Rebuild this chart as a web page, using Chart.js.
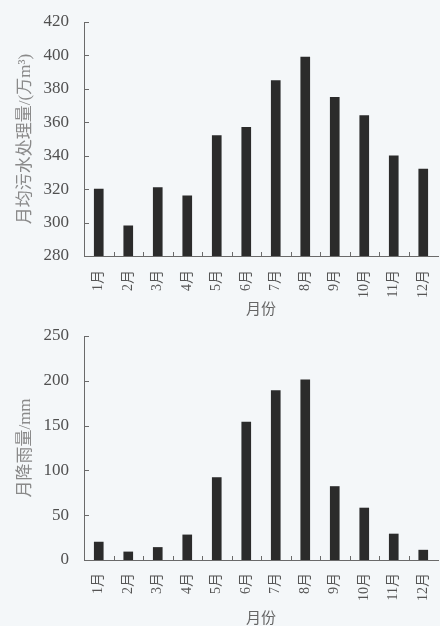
<!DOCTYPE html>
<html>
<head>
<meta charset="utf-8">
<script src="https://cdn.jsdelivr.net/npm/chart.js@4/dist/chart.umd.min.js"></script>
<style>
  body { margin: 0; background: #f4f7f9; }
  canvas { display: block; }
</style>
</head>
<body>
<canvas id="chart-top" width="440" height="320"></canvas>
<canvas id="chart-bottom" width="440" height="306"></canvas>
<script>
const months = ["1月", "2月", "3月", "4月", "5月", "6月", "7月", "8月", "9月", "10月", "11月", "12月"];
const sewage = [320, 298, 321, 316, 352, 357, 385, 399, 375, 364, 340, 332];
const rainfall = [20, 9, 14, 28, 92, 154, 189, 201, 82, 58, 29, 11];
const sewageTicks = [280, 420, 20];
const rainTicks = [0, 250, 50];

const serif = "'Liberation Serif', 'Noto Sans CJK SC', serif";
const axisColor = "#6a6a6a";

// short ticks pointing into the plot, like the printed figure
const innerTicks = {
  id: "innerTicks",
  afterDraw(chart) {
    const { ctx, chartArea } = chart;
    const x = chart.scales.x;
    const y = chart.scales.y;
    ctx.save();
    ctx.strokeStyle = axisColor;
    ctx.lineWidth = 1;
    ctx.beginPath();
    y.ticks.forEach((t, i) => {
      const py = Math.round(y.getPixelForTick(i)) + 0.5;
      ctx.moveTo(chartArea.left, py);
      ctx.lineTo(chartArea.left + 5, py);
    });
    for (let i = 0; i < months.length - 1; i++) {
      const px = Math.round((x.getPixelForTick(i) + x.getPixelForTick(i + 1)) / 2) + 0.5;
      ctx.moveTo(px, chartArea.bottom);
      ctx.lineTo(px, chartArea.bottom - 4);
    }
    ctx.stroke();
    ctx.restore();
  },
};

const makeChart = (el, data, yTitle, range, padTop, xHeight, labelPad, titlePad) => {
  return new Chart(document.getElementById(el), {
    type: "bar",
    data: {
      labels: months,
      datasets: [
        {
          data: data,
          backgroundColor: "#2b2b2b",
          barThickness: 9,
        },
      ],
    },
    options: {
      responsive: false,
      animation: false,
      layout: { padding: { top: padTop, right: 2, left: 0, bottom: 0 } },
      plugins: { legend: { display: false }, tooltip: { enabled: false } },
      scales: {
        x: {
          grid: { display: false, drawTicks: false },
          border: { display: true, color: axisColor, width: 1 },
          ticks: {
            autoSkip: false,
            minRotation: 90,
            maxRotation: 90,
            padding: labelPad,
            color: "#555",
            font: { family: serif, size: 14 },
          },
          title: {
            display: true,
            text: "月份",
            color: "#666",
            padding: { top: 0, bottom: titlePad },
            font: { family: serif, size: 15 },
          },
          afterFit: (s) => {
            s.height = xHeight;
            s.paddingLeft = 0;
            s.paddingRight = 0;
          },
        },
        y: {
          min: range[0],
          max: range[1],
          grid: { display: false, drawTicks: false },
          border: { display: true, color: axisColor, width: 1 },
          ticks: {
            stepSize: range[2],
            padding: 15,
            color: "#505050",
            font: { family: serif, size: 17 },
          },
          title: {
            display: true,
            text: yTitle,
            color: "#8a8a8a",
            padding: { top: 15, bottom: 0 },
            font: { family: serif, size: 17 },
          },
          afterFit: (s) => {
            s.width = 84;
            s.paddingTop = 0;
            s.paddingBottom = 0;
          },
        },
      },
    },
    plugins: [innerTicks],
  });
};

makeChart("chart-top", sewage, "月均污水处理量/(万m³)", sewageTicks, 22, 64, 14, 1);
makeChart("chart-bottom", rainfall, "月降雨量/mm", rainTicks, 16, 66, 13, -2);
</script>
</body>
</html>
